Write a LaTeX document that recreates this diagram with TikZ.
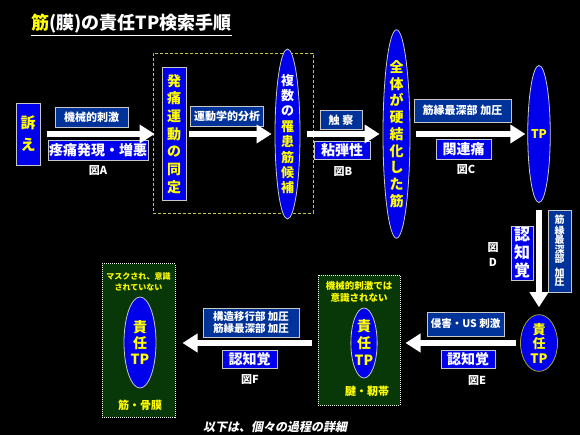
\documentclass[tikz,border=0pt]{standalone}
\usepackage{fontspec}
\setmainfont{Noto Sans CJK JP}
\newfontfamily\slantjp{Noto Sans CJK JP}[FakeSlant=0.2]
\usetikzlibrary{shapes.geometric,arrows.meta,positioning,calc}

\definecolor{brightblue}{RGB}{0,0,235}
\definecolor{darkblue}{RGB}{0,51,153}
\definecolor{darkgreen}{RGB}{8,55,8}
\definecolor{edgegray}{RGB}{200,200,200}
\definecolor{frameyellow}{RGB}{200,200,70}
\definecolor{oliveedge}{RGB}{160,160,60}
\definecolor{textyellow}{RGB}{255,255,0}

\newcommand\fsz[2]{\fontsize{#1}{#2}\selectfont\bfseries}

\tikzset{
    darkbox/.style={draw=edgegray, line width=0.8pt, fill=darkblue, text=white, inner sep=0pt, font=\fsz{11}{13}},
    bluebox/.style={draw=edgegray, line width=0.8pt, fill=brightblue, text=white, inner sep=0pt, font=\fsz{14}{16}},
    vbox/.style={draw=edgegray, line width=0.8pt, fill=brightblue, text=textyellow, inner sep=0pt, align=center},
    vell/.style={ellipse, draw=edgegray, line width=0.8pt, fill=brightblue, text=textyellow, inner sep=0pt, align=center},
    figlabel/.style={text=white, font=\fsz{11}{13}},
    bigarrow/.style={white, line width=6pt, -{Triangle[width=18pt,length=15pt]}},
    greenpanel/.style={draw=white, densely dotted, line width=1pt, fill=darkgreen, inner sep=0pt}
}

\begin{document}
\begin{tikzpicture}[x=1pt, y=-1pt]
    \fill[black] (0,0) rectangle (580,435);
    \useasboundingbox (0,0) rectangle (580,435);

    % Title
    \node (title) [anchor=west, text=white, inner sep=0pt, font=\fsz{18}{20}] at (31,24) {\textcolor{textyellow}{筋}(膜)の責任TP検索手順};
    \draw[white, line width=1pt] ([yshift=-2pt]title.south west) -- ([yshift=-2pt]title.south east);

    % Upper row
    \node (uttae) [vbox, minimum width=24pt, minimum height=62pt, font=\fsz{15}{22}] at (28,134) {訴\\え};
    \node (frame) [draw=frameyellow, dash pattern=on 3pt off 2pt, line width=0.8pt, minimum width=160pt, minimum height=160pt] at (233,133) {};
    \node (doutei) [vbox, minimum width=24pt, minimum height=133pt, font=\fsz{14}{17.7}] at (174,134) {発\\痛\\運\\動\\の\\同\\定};
    \node (kouho) [vell, minimum width=25pt, minimum height=142pt, font=\fsz{13}{15.4}] at (287.5,134) {{\color{white}複}\\{\color{white}数}\\{\color{white}の}\\罹\\患\\筋\\候\\補};
    \node (kouketsu) [vell, minimum width=27pt, minimum height=192pt, font=\fsz{14}{16.75}] at (396.5,134) {全\\体\\が\\硬\\結\\化\\し\\た\\筋};
    \node (tp) [vell, minimum width=19pt, minimum height=137pt, font=\fsz{12}{14}] at (539,134) {TP};

    \node (kikai) [darkbox, minimum width=73pt, minimum height=20pt] at (91.5,117) {機械的刺激};
    \node (toutsuu) [bluebox, minimum width=100pt, minimum height=20pt] at (98,150) {疼痛発現・増悪};
    \node (figA) [figlabel] at (98,171) {図A};
    \node (undou) [darkbox, minimum width=73pt, minimum height=20pt] at (227,116) {運動学的分析};
    \node (shokusatsu) [darkbox, minimum width=42pt, minimum height=19pt] at (341,120) {触\hspace{3pt}察};
    \node (nendan) [bluebox, minimum width=56pt, minimum height=18pt] at (342,150) {粘弾性};
    \node (figB) [figlabel] at (343,172) {図B};
    \node (kaatsuC) [darkbox, minimum width=97pt, minimum height=23pt] at (462.5,110.5) {筋縁最深部 加圧};
    \node (kanren) [bluebox, minimum width=55pt, minimum height=20pt] at (463.5,149) {関連痛};
    \node (figC) [figlabel] at (466,170) {図C};

    % Right column
    \node (kaatsuD) [darkbox, align=center, minimum width=23pt, minimum height=82pt, font=\fsz{10}{9.5}] at (559.5,251) {筋\\縁\\最\\深\\部\\[4pt]加\\圧};
    \node (ninchiD) [vbox, text=white, minimum width=22pt, minimum height=54pt, font=\fsz{16}{18}] at (522,253) {認\\知\\覚};
    \node (figD) [figlabel, align=center, font=\fsz{11}{15}] at (493,254.5) {図\\D};
    \node (sekinin) [vell, draw=oliveedge, minimum width=37pt, minimum height=55pt, font=\fsz{13}{14.5}] at (539,343) {責\\任\\TP};

    % Lower middle
    \node (midbox) [greenpanel, minimum width=82pt, minimum height=130pt] at (359,340) {};
    \node (midnote) [text=textyellow, align=center, font=\fsz{9.5}{12}] at (359,292) {機械的刺激では\\意識されない};
    \node (midtp) [vell, minimum width=26pt, minimum height=70pt, font=\fsz{14}{17}] at (364,343) {責\\任\\TP};
    \node (midtissue) [text=textyellow, font=\fsz{11}{13}] at (367,391) {腱・靭帯};

    \node (shingai) [darkbox, minimum width=77pt, minimum height=24pt, font=\fsz{10.5}{12}] at (465.5,324) {侵害・US 刺激};
    \node (ninchiE) [bluebox, minimum width=54pt, minimum height=18pt] at (468,359) {認知覚};
    \node (figE) [figlabel] at (477,381) {図E};

    % Lower left
    \node (leftbox) [greenpanel, minimum width=73pt, minimum height=153pt] at (138.5,340.5) {};
    \node (leftnote) [text=textyellow, align=center, font=\fsz{8}{11}] at (138.5,281.5) {マスクされ、意識\\されていない};
    \node (lefttp) [vell, minimum width=32pt, minimum height=91pt, font=\fsz{14}{16}] at (140,342.5) {責\\任\\TP};
    \node (lefttissue) [text=textyellow, font=\fsz{11}{13}] at (140,405) {筋・骨膜};

    \node (kaatsuF) [darkbox, align=center, minimum width=96pt, minimum height=29pt, font=\fsz{10.5}{12}] at (251,322.5) {構造移行部 加圧\\筋縁最深部 加圧};
    \node (ninchiF) [bluebox, minimum width=55pt, minimum height=18pt] at (249.5,359) {認知覚};
    \node (figF) [figlabel] at (250,380) {図F};

    \node (detail) [text=white, font=\slantjp\fsz{12}{14}] at (275,427) {以下は、個々の過程の詳細};

    % Arrows
    \draw[bigarrow, shorten <=7pt, shorten >=-2pt] (uttae.east) -- (uttae.east -| frame.west);
    \draw[bigarrow, shorten <=3pt, shorten >=3pt] (doutei.east) -- (kouho.west);
    \draw[bigarrow, shorten <=7pt, shorten >=3pt] (kouho.east) -- (kouketsu.west);
    \draw[bigarrow, shorten <=6pt, shorten >=2pt] (kouketsu.east) -- (tp.west);
    \draw[bigarrow, shorten <=7pt, shorten >=7pt] (tp.south) -- (sekinin.north);
    \draw[bigarrow, shorten <=4pt, shorten >=5pt] (sekinin.west) -- (sekinin.west -| midbox.east);
    \draw[bigarrow, shorten <=6pt, shorten >=7pt] (sekinin.west -| midbox.west) -- (sekinin.west -| leftbox.east);
\end{tikzpicture}
\end{document}
